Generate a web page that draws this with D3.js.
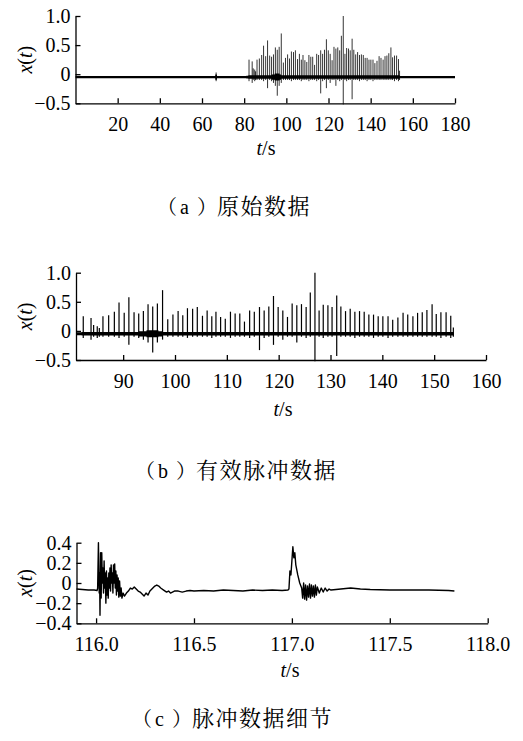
<!DOCTYPE html>
<html>
<head>
<meta charset="utf-8">
<script src="https://cdn.jsdelivr.net/npm/d3@7"></script>
<style>
body { margin: 0; background: #fff; }
.axis path, .axis line { stroke: #000; stroke-width: 1.3; }
</style>
</head>
<body>
<svg id="s1"></svg>
<script>
// pulses: time (s), peak value, trough value
var pulseTimes = [66.7, 82.3, 83.8, 84.3, 85.0, 85.4, 86.1, 87.2, 88.3, 89.2, 90.2, 91.1, 92.1, 93.0, 93.9, 94.8, 95.7, 96.6, 97.6, 98.6, 99.6,
    100.6, 101.5, 102.4, 103.4, 104.3, 105.3, 106.2, 107.1, 107.9, 108.8, 109.7, 110.7, 111.6, 112.5, 113.4, 114.4, 115.3, 116.3, 117.2, 118.1,
    119.0, 119.9, 120.8, 121.7, 122.6, 123.5, 124.4, 125.3, 126.1, 127.0, 127.8, 128.6, 129.5, 130.3, 131.2, 132.0, 132.9, 133.8, 134.7, 135.6,
    136.5, 137.4, 138.3, 139.2, 140.1, 141.1, 142.0, 143.0, 144.0, 144.9, 145.9, 146.8, 147.7, 148.6, 149.6, 150.4, 151.3, 152.3, 153.2, 153.7];
var pulsePeaks = [0.03, 0.25, 0.22, 0.10, 0.08, 0.05, 0.25, 0.27, 0.33, 0.49, 0.31, 0.58, 0.32, 0.30, 0.34, 0.46, 0.42, 0.47, 0.70, 0.20, 0.28,
    0.34, 0.27, 0.39, 0.38, 0.41, 0.26, 0.35, 0.25, 0.33, 0.24, 0.21, 0.33, 0.30, 0.30, 0.16, 0.35, 0.33, 0.41, 0.35, 0.42,
    0.60, 0.41, 0.35, 0.24, 0.47, 0.44, 0.46, 0.41, 0.66, 1.00, 0.35, 0.45, 0.44, 0.41, 0.61, 0.42, 0.34, 0.38, 0.33, 0.34,
    0.33, 0.28, 0.28, 0.25, 0.25, 0.25, 0.19, 0.23, 0.31, 0.28, 0.25, 0.31, 0.32, 0.36, 0.46, 0.29, 0.32, 0.32, 0.26, 0.06];
var pulseTroughs = [-0.12, -0.12, -0.15, -0.10, -0.12, -0.10, -0.10, -0.10, -0.10, -0.12, -0.10, -0.24, -0.10, -0.12, -0.15, -0.20, -0.37, -0.20, -0.15, -0.10, -0.10,
    -0.10, -0.10, -0.12, -0.10, -0.10, -0.10, -0.10, -0.12, -0.10, -0.10, -0.10, -0.12, -0.10, -0.10, -0.10, -0.12, -0.10, -0.33, -0.12, -0.10,
    -0.24, -0.10, -0.15, -0.10, -0.10, -0.20, -0.10, -0.12, -0.10, -0.52, -0.10, -0.12, -0.10, -0.10, -0.43, -0.10, -0.10, -0.10, -0.12, -0.10,
    -0.10, -0.10, -0.12, -0.10, -0.10, -0.12, -0.10, -0.10, -0.10, -0.10, -0.10, -0.10, -0.10, -0.10, -0.10, -0.10, -0.12, -0.10, -0.12, -0.10];

// baseline level and half-width of the noise band around it
var baseLevel = -0.05;
var bandTimes = [0, 66.3, 67.1, 81, 82, 93, 94.5, 96.8, 97.5, 153.8, 180];
var bandHalf = [0.02, 0.045, 0.02, 0.025, 0.03, 0.045, 0.06, 0.045, 0.03, 0.02, 0.02];
// time span kept as valid pulse data (panel b)
var validSpan = [81, 153.8];

// panel (c): detail of two pulses
var detailTimes = [115.90, 115.93, 115.96, 115.99, 116.005, 116.008, 116.012, 116.016, 116.018, 116.020, 116.023, 116.026, 116.029, 116.032,
    116.035, 116.038, 116.041, 116.044, 116.047, 116.050, 116.053, 116.056, 116.059, 116.062, 116.065, 116.068, 116.071, 116.074, 116.077,
    116.080, 116.083, 116.086, 116.089, 116.092, 116.095, 116.098, 116.101, 116.104, 116.107, 116.110, 116.113, 116.116, 116.120, 116.124,
    116.128, 116.132, 116.138, 116.145, 116.155, 116.165, 116.175, 116.185, 116.195, 116.205, 116.215, 116.225, 116.235, 116.245, 116.255,
    116.265, 116.275, 116.29, 116.30, 116.31, 116.32, 116.33, 116.345, 116.36, 116.37, 116.38, 116.39, 116.40, 116.42, 116.44, 116.46,
    116.48, 116.50, 116.55, 116.60, 116.65, 116.70, 116.75, 116.80, 116.85, 116.90, 116.95, 116.98, 116.985, 116.99, 116.995, 117.00,
    117.005, 117.01, 117.015, 117.02, 117.03, 117.04, 117.05, 117.055, 117.06, 117.065, 117.07, 117.075, 117.08, 117.085, 117.09, 117.095,
    117.10, 117.105, 117.11, 117.115, 117.12, 117.125, 117.13, 117.14, 117.15, 117.16, 117.17, 117.18, 117.19, 117.20, 117.25, 117.30,
    117.35, 117.40, 117.50, 117.60, 117.70, 117.80, 117.83];
var detailValues = [-0.06, -0.065, -0.07, -0.07, -0.075, -0.05, 0.40, -0.10, 0.10, -0.32, 0.30, -0.15, 0.30, 0.00,
    0.15, -0.10, 0.22, -0.05, 0.10, -0.20, 0.12, -0.12, 0.05, -0.15, 0.10, -0.05, 0.15, -0.08, 0.18,
    0.00, 0.10, -0.10, 0.18, 0.00, 0.19, -0.05, 0.12, -0.12, 0.08, -0.08, 0.05, -0.14, 0.02, -0.13,
    -0.05, -0.15, -0.10, -0.13, -0.10, -0.08, -0.05, -0.06, -0.04, -0.06, -0.08, -0.09, -0.11, -0.13, -0.10,
    -0.12, -0.08, -0.05, -0.03, -0.02, -0.03, -0.05, -0.07, -0.09, -0.08, -0.10, -0.09, -0.08, -0.08, -0.09, -0.08,
    -0.075, -0.08, -0.075, -0.08, -0.07, -0.075, -0.08, -0.07, -0.075, -0.07, -0.075, -0.07, -0.06, 0.12, 0.08, 0.22,
    0.36, 0.25, 0.30, 0.18, 0.08, 0.00, -0.05, -0.15, 0.00, -0.16, -0.02, -0.17, -0.03, -0.14, -0.01, -0.15,
    -0.02, -0.13, -0.03, -0.14, -0.02, -0.12, -0.04, -0.10, -0.05, -0.09, -0.05, -0.08, -0.06, -0.07, -0.06, -0.05,
    -0.06, -0.065, -0.07, -0.07, -0.07, -0.075, -0.08];

// tick values
var ticksAx = [20, 40, 60, 80, 100, 120, 140, 160, 180];
var ticksAy = [-0.5, 0, 0.5, 1.0];
var ticksBx = [90, 100, 110, 120, 130, 140, 150, 160];
var ticksBy = [-0.5, 0, 0.5, 1.0];
var ticksCx = [116.0, 116.5, 117.0, 117.5, 118.0];
var ticksCy = [-0.4, -0.2, 0, 0.2, 0.4];

var captionLetters = ["a", "b", "c"];
var captionTexts = ["原始数据", "有效脉冲数据", "脉冲数据细节"];

var width = 523;
var height = 741;
var serif = "'Liberation Serif', serif";
var capFont = "'Liberation Serif', 'Noto Serif CJK SC', serif";

var svg = d3.select("#s1").attr("width", width).attr("height", height);

var pulses = pulseTimes.map(function (t, i) {
    return {t: t, hi: pulsePeaks[i], lo: pulseTroughs[i]};
});
var band = bandTimes.map(function (t, i) {
    return {t: t, h: bandHalf[i]};
});

var yFmt = function (d) {
    return d === 0 ? "0" : d3.format(".1f")(d);
};

// draws axes + labels for one panel
function drawAxes(g, x, y, xt, yt, xFmt, xLabelX, xLabelY) {
    g.append("g").attr("class", "axis")
        .attr("transform", "translate(0," + y.range()[0] + ")")
        .call(d3.axisBottom(x).tickValues(xt).tickFormat(xFmt).tickSize(-5).tickSizeOuter(0).tickPadding(14));
    g.append("g").attr("class", "axis")
        .attr("transform", "translate(" + x.range()[0] + ",0)")
        .call(d3.axisLeft(y).tickValues(yt).tickFormat(yFmt).tickSize(-5).tickSizeOuter(0).tickPadding(5));
    g.selectAll(".axis").attr("font-family", null).attr("font-size", null);
    g.selectAll(".axis text")
        .style("font-family", serif)
        .style("font-size", "20px")
        .style("fill", "#000");

    var yMid = (y.range()[0] + y.range()[1]) / 2;
    var yl = g.append("text")
        .attr("transform", "translate(25," + yMid + ") rotate(-90)")
        .attr("text-anchor", "middle")
        .attr("dy", "0.35em")
        .style("font-family", serif)
        .style("font-size", "20px");
    yl.append("tspan").style("font-style", "italic").text("x");
    yl.append("tspan").text("(");
    yl.append("tspan").style("font-style", "italic").text("t");
    yl.append("tspan").text(")");

    var xl = g.append("text")
        .attr("x", xLabelX).attr("y", xLabelY)
        .attr("text-anchor", "middle")
        .style("font-family", serif)
        .style("font-size", "20px");
    xl.append("tspan").style("font-style", "italic").text("t");
    xl.append("tspan").text("/s");
}

// caption: （a）原始数据
function drawCaption(i, x, y) {
    var c = svg.append("text").attr("x", x).attr("y", y)
        .style("font-family", capFont)
        .style("font-size", "20px");
    c.append("tspan").text("（");
    c.append("tspan").attr("dx", 3).text(captionLetters[i]);
    c.append("tspan").attr("dx", 8).text("）");
    c.append("tspan").style("font-size", "22px").style("letter-spacing", "1.5px").text(captionTexts[i]);
}

// pulse panels (a) and (b)
function drawPulsePanel(x, y, t0, t1, spikeWidth) {
    var g = svg.append("g");
    var seg = band.filter(function (d) { return d.t > t0 && d.t < t1; });
    var hAt = function (t) {
        var h = band[0].h;
        band.forEach(function (d) { if (d.t <= t) h = d.h; });
        return h;
    };
    seg = [{t: t0, h: hAt(t0)}].concat(seg, [{t: t1, h: hAt(t1)}]);
    g.append("path")
        .datum(seg)
        .attr("fill", "#000")
        .attr("d", d3.area()
            .curve(d3.curveStepAfter)
            .x(function (d) { return x(d.t); })
            .y0(function (d) { return y(baseLevel - d.h); })
            .y1(function (d) { return y(baseLevel + d.h); }));
    g.selectAll("line.spike")
        .data(pulses.filter(function (d) { return d.t >= t0 && d.t <= t1; }))
        .enter().append("line")
        .attr("class", "spike")
        .attr("x1", function (d) { return x(d.t); })
        .attr("x2", function (d) { return x(d.t); })
        .attr("y1", function (d) { return y(d.lo); })
        .attr("y2", function (d) { return y(d.hi); })
        .attr("stroke", "#000")
        .attr("stroke-width", spikeWidth);
    return g;
}

// (a) raw data
var xA = d3.scaleLinear().domain([0, 180]).range([75.5, 455]);
var yA = d3.scaleLinear().domain([-0.5, 1.0]).range([103.3, 16]);
var gA = drawPulsePanel(xA, yA, 0, 180, 0.8);
drawAxes(gA, xA, yA, ticksAx, ticksAy, d3.format("d"), 266, 155);
drawCaption(0, 157, 214);

// (b) valid pulse data
var xB = d3.scaleLinear().domain([80.9, 160]).range([76, 486]);
var yB = d3.scaleLinear().domain([-0.5, 1.0]).range([360, 272.7]);
var gB = drawPulsePanel(xB, yB, validSpan[0], validSpan[1], 1.2);
drawAxes(gB, xB, yB, ticksBx, ticksBy, d3.format("d"), 283, 416);
drawCaption(1, 135, 478);

// (c) detail
var xC = d3.scaleLinear().domain([115.9, 118]).range([76.5, 487.7]);
var yC = d3.scaleLinear().domain([-0.4, 0.4]).range([623.3, 542.7]);
var gC = svg.append("g");
gC.append("path")
    .datum(detailTimes.map(function (t, i) { return [t, detailValues[i]]; }))
    .attr("fill", "none")
    .attr("stroke", "#000")
    .attr("stroke-width", 1.4)
    .attr("stroke-linejoin", "round")
    .attr("d", d3.line()
        .x(function (d) { return xC(d[0]); })
        .y(function (d) { return yC(d[1]); }));
drawAxes(gC, xC, yC, ticksCx, ticksCy, d3.format(".1f"), 290, 677);
drawCaption(2, 132, 726);
</script>
</body>
</html>
